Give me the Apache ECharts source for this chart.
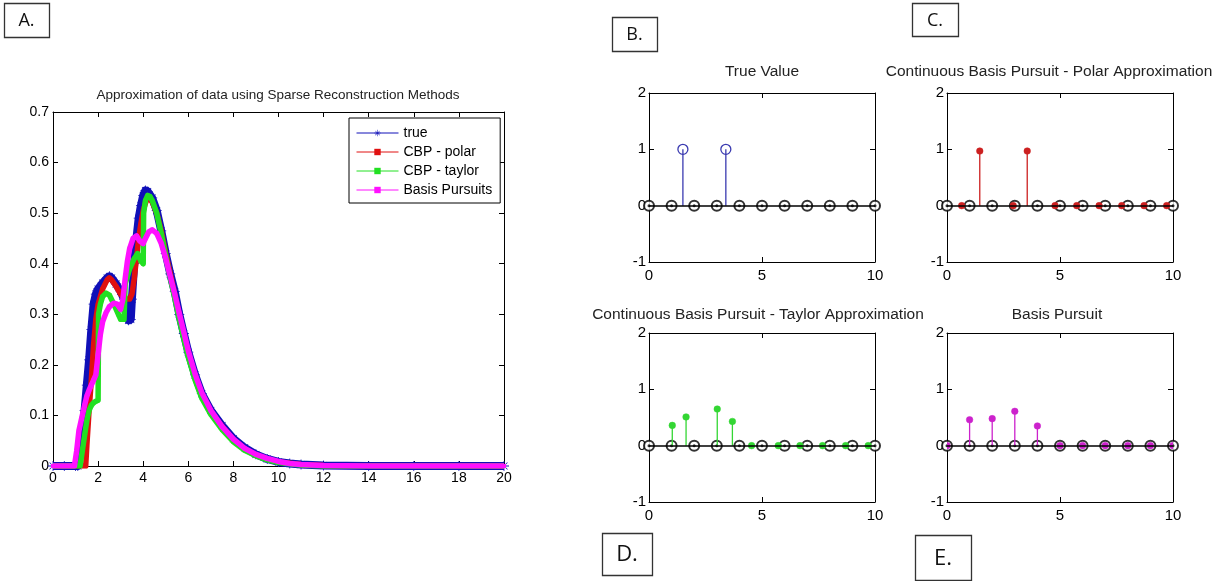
<!DOCTYPE html>
<html><head><meta charset="utf-8">
<script src="https://cdn.jsdelivr.net/npm/echarts@6/dist/echarts.min.js"></script>
<style>html,body{margin:0;padding:0;background:#fff;}#c{width:1230px;height:581px;}</style>
</head><body><div id="c"></div>
<script>
// ---------- Panel A: approximation curves ----------
const seriesNames = ['true', 'CBP - polar', 'CBP - taylor', 'Basis Pursuits'];

const trueX = [0, 0.5, 1.0, 1.1, 1.2, 1.3, 1.4, 1.5, 1.6, 1.7, 1.8, 1.9, 2.0, 2.2, 2.4, 2.5, 2.6, 2.8, 3.0, 3.15, 3.25, 3.35, 3.45, 3.5, 3.6, 3.7, 3.8, 3.9, 4.0, 4.1, 4.2, 4.4, 4.6, 4.8, 5.0, 5.2, 5.4, 5.6, 5.8, 6.0, 6.3, 6.6, 7.0, 7.5, 8.0, 8.5, 9.0, 9.5, 10, 10.5, 11, 12, 14, 16, 18, 20];
const trueY = [0, 0, 0, 0, 0.03, 0.07, 0.11, 0.16, 0.21, 0.27, 0.32, 0.34, 0.35, 0.362, 0.372, 0.375, 0.372, 0.36, 0.345, 0.33, 0.305, 0.288, 0.29, 0.33, 0.4, 0.45, 0.49, 0.515, 0.535, 0.545, 0.543, 0.53, 0.505, 0.465, 0.42, 0.38, 0.345, 0.3, 0.262, 0.225, 0.18, 0.143, 0.11, 0.08, 0.054, 0.036, 0.023, 0.014, 0.008, 0.005, 0.003, 0.001, 0, 0, 0, 0];

const polarX = [0, 1.0, 1.45, 1.5, 1.6, 1.7, 1.8, 1.9, 2.0, 2.2, 2.4, 2.5, 2.6, 2.8, 3.0, 3.2, 3.4, 3.5, 3.6, 3.7, 3.8, 3.9, 4.0, 4.1, 4.2, 4.3, 4.4, 4.6, 4.8, 5.0, 5.2, 5.4, 5.6, 5.8, 6.0, 6.3, 6.6, 7.0, 7.5, 8.0, 8.5, 9.0, 9.5, 10, 11, 12, 20];
const polarY = [0, 0, 0, 0.04, 0.11, 0.17, 0.24, 0.29, 0.32, 0.35, 0.368, 0.372, 0.368, 0.355, 0.34, 0.33, 0.33, 0.34, 0.37, 0.41, 0.45, 0.48, 0.505, 0.52, 0.53, 0.528, 0.522, 0.5, 0.465, 0.42, 0.38, 0.34, 0.298, 0.26, 0.222, 0.178, 0.14, 0.108, 0.078, 0.052, 0.034, 0.022, 0.013, 0.008, 0.003, 0.001, 0];

const taylorX = [0, 1.0, 1.2, 1.3, 1.4, 1.5, 1.6, 1.7, 1.8, 1.9, 2.0, 2.02, 2.1, 2.2, 2.35, 2.5, 2.7, 2.9, 3.0, 3.15, 3.2, 3.4, 3.6, 3.75, 3.9, 4.0, 4.02, 4.1, 4.2, 4.3, 4.4, 4.6, 4.8, 5.0, 5.2, 5.4, 5.6, 5.8, 6.0, 6.3, 6.6, 7.0, 7.5, 8.0, 8.5, 9.0, 9.5, 10, 11, 12, 20];
const taylorY = [0, 0, 0, 0.03, 0.06, 0.09, 0.11, 0.12, 0.125, 0.128, 0.13, 0.3, 0.32, 0.335, 0.342, 0.338, 0.32, 0.3, 0.29, 0.29, 0.36, 0.39, 0.41, 0.42, 0.405, 0.4, 0.5, 0.525, 0.535, 0.533, 0.525, 0.5, 0.46, 0.415, 0.372, 0.332, 0.29, 0.252, 0.215, 0.17, 0.134, 0.102, 0.072, 0.048, 0.031, 0.02, 0.012, 0.007, 0.002, 0, 0];

const bpX = [0, 0.95, 1.05, 1.15, 1.3, 1.4, 1.5, 1.6, 1.7, 1.8, 1.9, 2.0, 2.1, 2.2, 2.35, 2.5, 2.7, 2.85, 3.0, 3.1, 3.2, 3.3, 3.4, 3.55, 3.7, 3.85, 4.0, 4.1, 4.25, 4.4, 4.6, 4.8, 5.0, 5.2, 5.4, 5.6, 5.8, 6.0, 6.3, 6.6, 7.0, 7.5, 8.0, 8.5, 9.0, 9.5, 10, 10.5, 11, 12, 14, 20];
const bpY = [0, 0, 0.03, 0.07, 0.1, 0.12, 0.138, 0.15, 0.16, 0.17, 0.18, 0.22, 0.26, 0.285, 0.303, 0.315, 0.322, 0.32, 0.31, 0.33, 0.37, 0.405, 0.43, 0.45, 0.455, 0.445, 0.44, 0.45, 0.463, 0.467, 0.46, 0.44, 0.41, 0.375, 0.34, 0.302, 0.265, 0.228, 0.182, 0.145, 0.11, 0.078, 0.053, 0.035, 0.023, 0.015, 0.009, 0.005, 0.003, 0.001, 0, 0];

// ---------- Panels B-E: stem plots ----------
const gridPtsX = [0, 1, 2, 3, 4, 5, 6, 7, 8, 9, 10];
const gridPtsY = [0, 0, 0, 0, 0, 0, 0, 0, 0, 0, 0];

const stemTrueX = [1.5, 3.4];
const stemTrueY = [1, 1];

const stemPolarX = [1.45, 3.55, 0.65, 2.93, 4.78, 5.74, 6.73, 7.73, 8.72, 9.72];
const stemPolarY = [0.97, 0.97, 0, 0, 0, 0, 0, 0, 0, 0];

const stemTaylorX = [1.03, 1.64, 3.02, 3.69, 4.54, 5.72, 6.68, 7.68, 8.7, 9.7];
const stemTaylorY = [0.36, 0.51, 0.65, 0.43, 0, 0, 0, 0, 0, 0];

const stemBpX = [0, 1, 2, 3, 4, 5, 6, 7, 8, 9, 10];
const stemBpY = [0, 0.46, 0.48, 0.61, 0.35, 0, 0, 0, 0, 0, 0];

const panelTitles = ['Approximation of data using Sparse Reconstruction Methods', 'True Value',
  'Continuous Basis Pursuit - Polar Approximation', 'Continuous Basis Pursuit - Taylor Approximation', 'Basis Pursuit'];
const panelLetters = ['A.', 'B.', 'C.', 'D.', 'E.'];

// ---------- build ----------
const FONT = "'Liberation Sans', Arial, sans-serif";
const zip = (xs, ys) => xs.map((x, i) => [x, ys[i]]);

const grids = [
  {left: 53, top: 112, width: 451, height: 354},
  {left: 649, top: 93, width: 226, height: 169},
  {left: 947, top: 93, width: 226, height: 169},
  {left: 649, top: 333, width: 226, height: 169},
  {left: 947, top: 333, width: 226, height: 169}
];
grids.forEach(g => { g.show = false; g.containLabel = false; });

const xAxes = [], yAxes = [];
function addAxes(gi, xmin, xmax, xint, ymin, ymax, yint, fs, xm, ym) {
  const base = {
    type: 'value', gridIndex: gi, splitLine: {show: false},
    axisLine: {show: true, onZero: false, lineStyle: {color: '#000', width: 1}},
    axisTick: {show: true, inside: true, length: 5, lineStyle: {color: '#000'}}
  };
  xAxes.push(Object.assign({}, base, {min: xmin, max: xmax, interval: xint, position: 'bottom',
    axisLabel: {color: '#000', fontSize: fs, fontFamily: FONT, margin: xm}}));
  xAxes.push(Object.assign({}, base, {min: xmin, max: xmax, interval: xint, position: 'top',
    axisLabel: {show: false}}));
  yAxes.push(Object.assign({}, base, {min: ymin, max: ymax, interval: yint, position: 'left',
    axisLabel: {color: '#000', fontSize: fs, fontFamily: FONT, margin: ym}}));
  yAxes.push(Object.assign({}, base, {min: ymin, max: ymax, interval: yint, position: 'right',
    axisLabel: {show: false}}));
}
addAxes(0, 0, 20, 2, 0, 0.7, 0.1, 14, 5, 4);
for (let i = 1; i <= 4; i++) addAxes(i, 0, 10, 5, -1, 2, 1, 15, 6, 3);

const asterisk = 'path://M4.6,0h0.8v10h-0.8z M0,4.6h10v0.8h-10z M1.3,1.8l0.5,-0.5l7,7l-0.5,0.5z M8.2,1.3l0.5,0.5l-7,7l-0.5,-0.5z';
const curveDefs = [
  {name: seriesNames[0], x: trueX, y: trueY, color: '#1010b8', w: 8, sym: asterisk, ss: 10},
  {name: seriesNames[1], x: polarX, y: polarY, color: '#e01010', w: 5.5, sym: 'rect', ss: 4},
  {name: seriesNames[2], x: taylorX, y: taylorY, color: '#22e022', w: 5.5, sym: 'rect', ss: 4},
  {name: seriesNames[3], x: bpX, y: bpY, color: '#ff10ff', w: 5.5, sym: 'rect', ss: 4}
];
const series = [];
curveDefs.forEach((d, k) => {
  series.push({
    type: 'line', name: d.name, xAxisIndex: 0, yAxisIndex: 0, data: zip(d.x, d.y),
    showSymbol: true, symbol: d.sym, symbolSize: d.ss, color: d.color,
    itemStyle: {color: d.color}, lineStyle: {color: d.color, width: d.w, join: 'round'},
    z: 2 + k, animation: false, clip: true
  });
});

function stemRender(color, open) {
  return function (params, api) {
    const x = api.value(0), y = api.value(1);
    const p0 = api.coord([x, 0]), p1 = api.coord([x, y]);
    const ch = [];
    if (y !== 0) ch.push({type: 'line', shape: {x1: p0[0], y1: p0[1], x2: p1[0], y2: p1[1]},
      style: {stroke: color, lineWidth: 1.3}});
    ch.push({type: 'circle', shape: {cx: p1[0], cy: p1[1], r: open ? 5 : 3.3},
      style: open ? {fill: 'none', stroke: color, lineWidth: 1.3} : {fill: color, stroke: color, lineWidth: 0.5}});
    return {type: 'group', children: ch};
  };
}

const stemDefs = [
  {x: stemTrueX, y: stemTrueY, color: '#3a3ab0', open: true},
  {x: stemPolarX, y: stemPolarY, color: '#cc2020', open: false},
  {x: stemTaylorX, y: stemTaylorY, color: '#33d633', open: false},
  {x: stemBpX, y: stemBpY, color: '#cc22cc', open: false}
];
stemDefs.forEach((d, k) => {
  const gi = k + 1;
  series.push({
    type: 'scatter', xAxisIndex: 2 * gi, yAxisIndex: 2 * gi, data: zip(gridPtsX, gridPtsY),
    symbol: 'emptyCircle', symbolSize: 10, itemStyle: {color: '#000', borderColor: '#000', borderWidth: 1.2},
    animation: false, z: 3, silent: true,
    markLine: {silent: true, symbol: 'none', label: {show: false}, animation: false,
      lineStyle: {color: '#000', type: 'solid', width: 1.5}, data: [{yAxis: 0}]}
  });
  series.push({
    type: 'scatter', xAxisIndex: 2 * gi, yAxisIndex: 2 * gi, data: zip(gridPtsX, gridPtsY),
    symbol: 'circle', symbolSize: 3, itemStyle: {color: '#000'}, animation: false, z: 3, silent: true
  });
  series.push({
    type: 'custom', xAxisIndex: 2 * gi, yAxisIndex: 2 * gi, data: zip(d.x, d.y),
    renderItem: stemRender(d.color, d.open), animation: false, z: 4, clip: true
  });
});

// titles and letter boxes
const titlePos = [[278, 95, 13.5], [762, 72, 15.5], [1049, 72, 15.5], [758, 315, 15.5], [1057, 315, 15.5]];
const boxPos = [[4, 3, 45, 34, 18], [612, 17, 45, 34, 18], [912, 3, 46, 33, 18], [602, 533, 50, 42, 22], [915, 535, 56, 45, 22]];
const graphic = [];
panelTitles.forEach((t, i) => {
  graphic.push({type: 'text', x: titlePos[i][0], y: titlePos[i][1], silent: true,
    style: {text: t, fill: '#222', font: titlePos[i][2] + 'px ' + FONT, textAlign: 'center', textVerticalAlign: 'middle'}});
});
panelLetters.forEach((t, i) => {
  const b = boxPos[i];
  graphic.push({type: 'rect', shape: {x: b[0] + 0.5, y: b[1] + 0.5, width: b[2], height: b[3]}, silent: true,
    style: {fill: '#fff', stroke: '#333', lineWidth: 1.3}});
  graphic.push({type: 'text', x: b[0] + b[2] / 2, y: b[1] + b[3] / 2 + 1, silent: true,
    style: {text: t, fill: '#111', font: b[4] + "px 'Open Sans', sans-serif", textAlign: 'center', textVerticalAlign: 'middle'}});
});

const chart = echarts.init(document.getElementById('c'), null, {renderer: 'canvas'});
chart.setOption({
  backgroundColor: '#fff',
  animation: false,
  grid: grids,
  xAxis: xAxes,
  yAxis: yAxes,
  legend: {
    data: seriesNames, orient: 'vertical', left: 349, top: 118,
    padding: [8, 8, 6, 7], itemGap: 5, itemWidth: 42, itemHeight: 8,
    borderColor: '#000', borderWidth: 1, backgroundColor: '#fff',
    textStyle: {fontSize: 14, fontFamily: FONT, color: '#000'},
    lineStyle: {width: 1}, selectedMode: false, z: 10
  },
  graphic: graphic,
  series: series
});
</script>
</body></html>
